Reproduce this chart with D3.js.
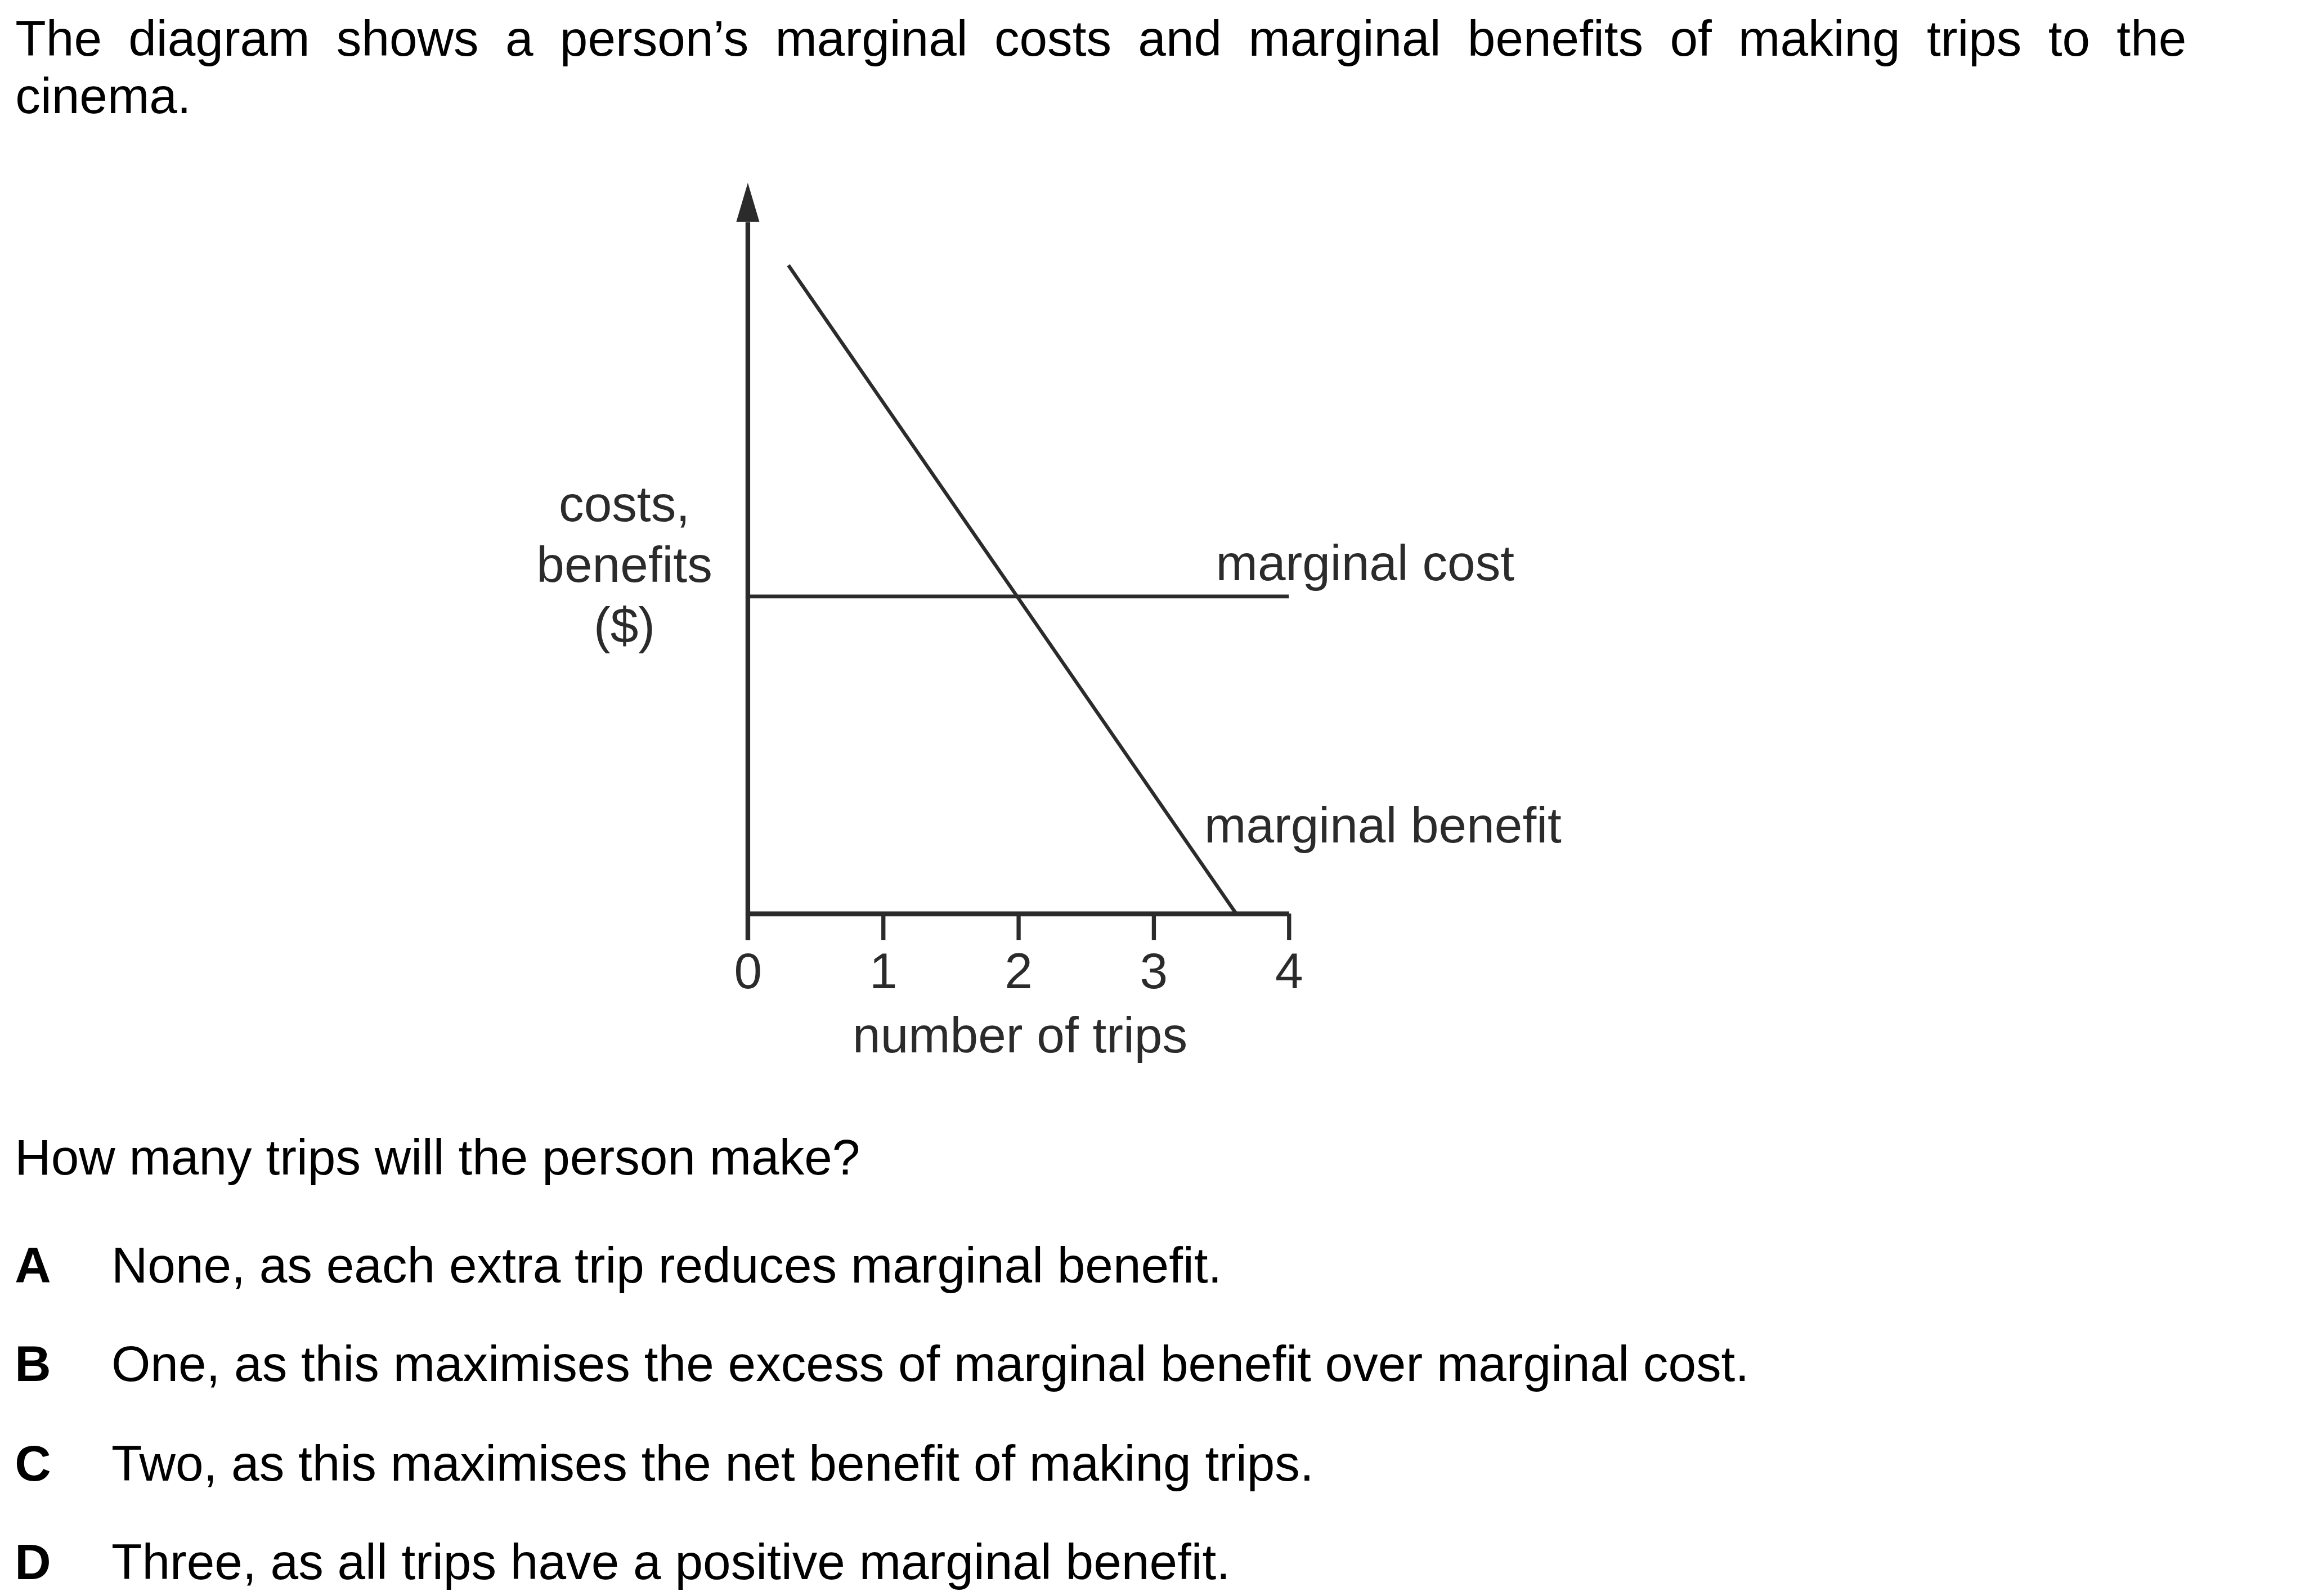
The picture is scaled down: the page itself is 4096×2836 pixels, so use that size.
<!DOCTYPE html>
<html>
<head>
<meta charset="utf-8">
<script src="https://cdn.jsdelivr.net/npm/d3@7"></script>
<style>
  html, body { margin: 0; padding: 0; background: #ffffff; }
  svg { display: block; }
  text { font-family: "Liberation Sans", Arial, Helvetica, sans-serif; }
</style>
</head>
<body>
<script>
// ---------------- data ----------------
const xTicks = [0, 1, 2, 3, 4];
const xTickLabels = ["0", "1", "2", "3", "4"];
const xDomain = [0, 4];
const yDomain = [0, 5.4];            // top of the y-axis (arrow tip)
const mcX = [0, 4];                  // marginal cost (horizontal)
const mcY = [2.343, 2.343];
const mbX = [0.30, 3.61];            // marginal benefit (downward sloping)
const mbY = [4.79, 0];
const yAxisLabel = ["costs,", "benefits", "($)"];
const xAxisLabel = "number of trips";
const seriesLabels = ["marginal cost", "marginal benefit"];
const introLine1 = "The diagram shows a person\u2019s marginal costs and marginal benefits of making trips to the";
const introLine2 = "cinema.";
const question = "How many trips will the person make?";
const optionKeys = ["A", "B", "C", "D"];
const optionTexts = [
  "None, as each extra trip reduces marginal benefit.",
  "One, as this maximises the excess of marginal benefit over marginal cost.",
  "Two, as this maximises the net benefit of making trips.",
  "Three, as all trips have a positive marginal benefit."
];

// ---------------- layout (reference pixel space, scaled by 0.975) ----------------
const S = 0.975;
const W = 4096, H = 2836;
const ink = "#2b2b2b";
const FS = 91.5;

const svg = d3.select("body").append("svg")
  .attr("width", W).attr("height", H);
const root = svg.append("g").attr("transform", `scale(${S})`);

const x = d3.scaleLinear().domain(xDomain).range([1363, 2349]);
const y = d3.scaleLinear().domain(yDomain).range([1665, 333]);

// ---------- intro text (justified first line) ----------
const intro = root.append("text")
  .attr("y", 102).attr("font-size", FS).attr("fill", "#000");
const words = introLine1.split(" ");
const tsp = intro.selectAll("tspan").data(words).join("tspan").text(d => d);
const widths = [];
tsp.each(function () { widths.push(this.getComputedTextLength()); });
const left = 28, right = 3985;
const totalW = d3.sum(widths);
const gap = (right - left - totalW) / (words.length - 1);
let cx = left;
tsp.attr("x", (d, i) => { const v = cx; cx += widths[i] + gap; return v; });

root.append("text").attr("x", 28).attr("y", 206)
  .attr("font-size", FS).attr("fill", "#000").text(introLine2);

// ---------- chart ----------
const chart = root.append("g");

// x axis
const xAxis = d3.axisBottom(x)
  .tickValues(xTicks)
  .tickFormat((d, i) => xTickLabels[i])
  .tickSize(48)
  .tickSizeOuter(0);
const gx = chart.append("g")
  .attr("transform", `translate(0,${y(0)})`)
  .call(xAxis);
gx.select(".domain").attr("stroke", ink).attr("stroke-width", 9);
gx.selectAll(".tick line").attr("stroke", ink).attr("stroke-width", 7.5);
gx.selectAll(".tick text")
  .attr("fill", ink)
  .attr("font-size", FS)
  .attr("font-family", '"Liberation Sans", Arial, sans-serif')
  .attr("dy", 0)
  .attr("y", 1801 - 1665);

// y axis line and arrow
const arrowBase = 404;
chart.append("line")
  .attr("x1", x(0)).attr("x2", x(0))
  .attr("y1", y(0) + 48).attr("y2", arrowBase + 1)
  .attr("stroke", ink).attr("stroke-width", 8.5);
const tipY = y(yDomain[1]);
chart.append("path")
  .attr("d", `M${x(0)},${tipY}L${x(0) + 21},${arrowBase}L${x(0) - 21},${arrowBase}Z`)
  .attr("fill", ink);

// lines
const line = d3.line().x(d => x(d[0])).y(d => y(d[1]));
chart.append("path")
  .datum(mcX.map((v, i) => [v, mcY[i]]))
  .attr("d", line)
  .attr("fill", "none").attr("stroke", ink).attr("stroke-width", 7);
chart.append("path")
  .datum(mbX.map((v, i) => [v, mbY[i]]))
  .attr("d", line)
  .attr("fill", "none").attr("stroke", ink).attr("stroke-width", 6.5);

// y axis label
chart.append("text")
  .attr("text-anchor", "middle").attr("font-size", FS).attr("fill", ink)
  .selectAll("tspan").data(yAxisLabel).join("tspan")
  .attr("x", 1138)
  .attr("y", (d, i) => [950, 1061, 1171][i])
  .text(d => d);

// x axis label
chart.append("text")
  .attr("x", x(2) + 3).attr("y", 1918)
  .attr("text-anchor", "middle").attr("font-size", FS).attr("fill", ink)
  .text(xAxisLabel);

// series labels
chart.append("text").attr("x", 2216).attr("y", 1057)
  .attr("font-size", FS).attr("fill", ink).text(seriesLabels[0]);
chart.append("text").attr("x", 2195).attr("y", 1535)
  .attr("font-size", FS).attr("fill", ink).text(seriesLabels[1]);

// ---------- question and options ----------
root.append("text").attr("x", 27).attr("y", 2141)
  .attr("font-size", FS).attr("fill", "#000").text(question);

const optY = [2337, 2517, 2698, 2878];
const opts = root.append("g").selectAll("g").data(optionKeys).join("g");
opts.append("text")
  .attr("x", 27).attr("y", (d, i) => optY[i])
  .attr("font-size", FS).attr("font-weight", "bold").attr("fill", "#000")
  .text(d => d);
opts.append("text")
  .attr("x", 203).attr("y", (d, i) => optY[i])
  .attr("font-size", FS).attr("fill", "#000")
  .text((d, i) => optionTexts[i]);
</script>
</body>
</html>
